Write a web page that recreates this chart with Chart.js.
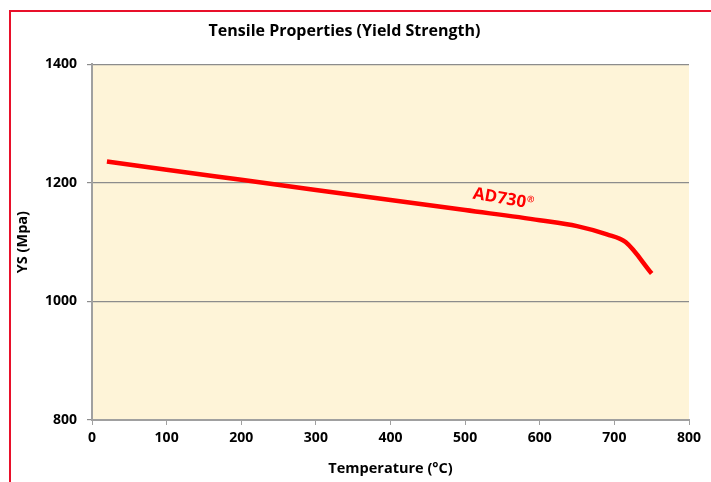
<!DOCTYPE html>
<html>
<head>
<meta charset="utf-8">
<script src="https://cdn.jsdelivr.net/npm/chart.js@4"></script>
<style>
  html, body { margin: 0; padding: 0; background: #fff; }
  #wrap { position: relative; width: 711px; height: 482px; }
  #frame { position: absolute; left: 9px; top: 10px; right: 0; bottom: 0;
           border-left: 2px solid #e8102a; border-top: 2px solid #e8102a; pointer-events: none; }
  canvas { position: absolute; left: 0; top: 0; }
</style>
</head>
<body>
<div id="wrap">
  <canvas id="chart" width="711" height="482"></canvas>
  <div id="frame"></div>
</div>
<script>
// values
const temperatures = [20, 100, 200, 300, 400, 500, 600, 650, 690, 715, 750];
const yieldStrength = [1236, 1222, 1205, 1188, 1171, 1154, 1137, 1127, 1113, 1100, 1047];
const seriesName = "AD730";
const xTicks = [0, 100, 200, 300, 400, 500, 600, 700, 800];
const yTicks = [800, 1000, 1200, 1400];
const labelAt = { x: 550, y: 1173 };

const fontFam = "'Open Sans', sans-serif";

const plotBg = {
  id: "plotBg",
  beforeDraw(chart) {
    const { ctx, chartArea: a } = chart;
    ctx.save();
    ctx.fillStyle = "#fef4d8";
    ctx.fillRect(a.left, a.top, a.right - a.left, a.bottom - a.top);
    ctx.restore();
  }
};

const seriesLabel = {
  id: "seriesLabel",
  afterDatasetsDraw(chart) {
    const { ctx, scales } = chart;
    const px = scales.x.getPixelForValue(labelAt.x);
    const py = scales.y.getPixelForValue(labelAt.y);
    ctx.save();
    ctx.translate(px, py);
    ctx.rotate(10 * Math.PI / 180);
    ctx.fillStyle = "#ff0000";
    ctx.font = "bold 17px " + fontFam;
    ctx.textBaseline = "middle";
    const w = ctx.measureText(seriesName).width;
    ctx.textAlign = "left";
    ctx.fillText(seriesName, -w / 2 - 3, 0);
    ctx.font = "bold 9px " + fontFam;
    ctx.fillText("®", w / 2 - 2.5, -4);
    ctx.restore();
  }
};

const tickFont = { family: fontFam, size: 14, weight: "bold" };
const axisTitleFont = { family: fontFam, size: 14.5, weight: "bold" };

new Chart(document.getElementById("chart"), {
  type: "line",
  data: {
    datasets: [{
      label: seriesName,
      data: temperatures.map((t, i) => ({ x: t, y: yieldStrength[i] })),
      borderColor: "#ff0000",
      borderWidth: 4.5,
      pointRadius: 0,
      fill: false,
      cubicInterpolationMode: "monotone"
    }]
  },
  options: {
    responsive: false,
    animation: false,
    layout: { padding: { top: 0, right: 22, left: 0, bottom: 0 } },
    plugins: {
      legend: { display: false },
      tooltip: { enabled: false },
      title: {
        display: true,
        text: "Tensile Properties (Yield Strength)",
        color: "#000",
        font: { family: fontFam, size: 16, weight: "bold" },
        padding: { top: 22, bottom: 23 }
      }
    },
    scales: {
      x: {
        type: "linear",
        min: 0, max: 800,
        afterBuildTicks(s) { s.ticks = xTicks.map(v => ({ value: v })); },
        afterFit(s) { s.height = 62; },
        grid: { drawOnChartArea: false, drawTicks: true, tickLength: 5, color: "#a0a0a0" },
        border: { color: "#a0a0a0", width: 2 },
        ticks: { color: "#000", font: tickFont, padding: 5, maxRotation: 0, callback: v => String(v) },
        title: { display: true, text: "Temperature (°C)", color: "#000",
                 font: axisTitleFont, padding: { top: 0 } }
      },
      y: {
        type: "linear",
        min: 800, max: 1400,
        afterBuildTicks(s) { s.ticks = yTicks.map(v => ({ value: v })); },
        afterFit(s) { s.width = 92; },
        grid: { drawOnChartArea: true, drawTicks: true, tickLength: 5, color: "#8c8c8c", lineWidth: 1.2 },
        border: { color: "#a0a0a0", width: 2 },
        ticks: { color: "#000", font: tickFont, padding: 10, callback: v => String(v) },
        title: { display: true, text: "YS (Mpa)", color: "#000",
                 font: axisTitleFont, padding: { top: 14, bottom: 0 } }
      }
    }
  },
  plugins: [plotBg, seriesLabel]
});
</script>
</body>
</html>
